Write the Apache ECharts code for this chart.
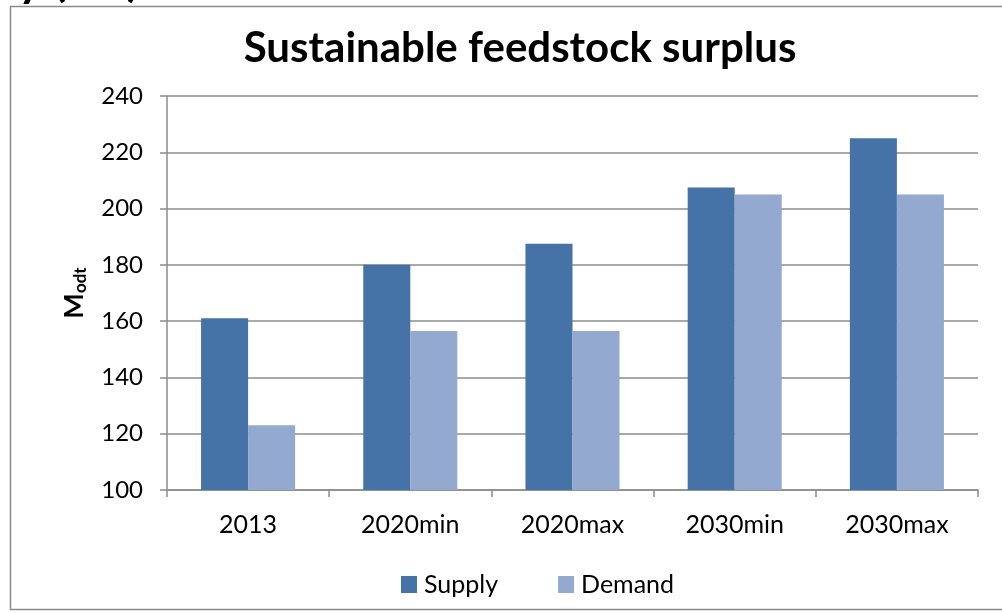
<!DOCTYPE html>
<html>
<head>
<meta charset="utf-8">
<script src="https://cdn.jsdelivr.net/npm/echarts@6/dist/echarts.min.js"></script>
<style>
  html, body { margin: 0; padding: 0; background: #fff; }
  #chart { width: 1002px; height: 613px; }
</style>
</head>
<body>
<div id="chart"></div>
<script>
// Feedstock supply vs demand by scenario (million oven-dry tonnes)
const categories = ['2013', '2020min', '2020max', '2030min', '2030max'];
const supply = [161, 180, 187.5, 207.5, 225];
const demand = [123, 156.5, 156.5, 205, 205];
const yTicks = { min: 100, max: 240, interval: 20 };

const FONT = 'Lato, "Open Sans", sans-serif';
const GRID_COLOR = '#8c8c8c';

const chart = echarts.init(document.getElementById('chart'), null, { renderer: 'canvas' });

chart.setOption({
  backgroundColor: '#fff',
  animation: false,
  graphic: [
    // outer frame of the chart area
    {
      type: 'rect',
      shape: { x: 10.5, y: 6.5, width: 1000, height: 603 },
      style: { fill: null, stroke: '#8a8a8a', lineWidth: 1.5 },
      silent: true
    },
    // bottom of a heading above the frame
    {
      type: 'text',
      x: 18,
      y: -42,
      style: { text: 'y (EU)', font: 'bold 46px ' + FONT, fill: '#000' },
      silent: true
    }
  ],
  title: {
    text: 'Sustainable feedstock surplus',
    left: 515,
    textAlign: 'center',
    top: 22,
    textStyle: { fontFamily: FONT, fontWeight: 'bold', fontSize: 42, color: '#000' }
  },
  legend: {
    data: ['Supply', 'Demand'],
    bottom: 16,
    left: 401,
    padding: 0,
    icon: 'rect',
    itemWidth: 16,
    itemHeight: 17,
    itemGap: 60,
    textStyle: { fontFamily: FONT, fontSize: 25, color: '#000', padding: [0, 0, 0, 2] }
  },
  grid: { left: 167, right: 24, top: 96, bottom: 123, containLabel: false },
  xAxis: {
    type: 'category',
    data: categories,
    boundaryGap: true,
    axisLine: { lineStyle: { color: GRID_COLOR, width: 1.5 } },
    axisTick: { show: true, length: 7, lineStyle: { color: GRID_COLOR, width: 1.5 } },
    axisLabel: { fontFamily: FONT, fontSize: 25, color: '#000', margin: 22 }
  },
  yAxis: {
    type: 'value',
    min: yTicks.min,
    max: yTicks.max,
    interval: yTicks.interval,
    name: '{m|M}{s|odt}',
    nameLocation: 'middle',
    nameGap: 78,
    nameRotate: 90,
    nameTextStyle: {
      rich: {
        m: { fontFamily: FONT, fontWeight: 'bold', fontSize: 27, color: '#000' },
        s: { fontFamily: FONT, fontWeight: 'bold', fontSize: 17, color: '#000', verticalAlign: 'bottom', padding: [12, 0, 0, 0] }
      }
    },
    axisLine: { show: true, lineStyle: { color: GRID_COLOR, width: 1.5 } },
    axisTick: { show: true, length: 7, lineStyle: { color: GRID_COLOR, width: 1.5 } },
    axisLabel: { fontFamily: FONT, fontSize: 24, color: '#000', margin: 24 },
    splitLine: { show: true, lineStyle: { color: GRID_COLOR, width: 1.5 } }
  },
  series: [
    {
      name: 'Supply',
      type: 'bar',
      data: supply,
      barGap: '0%',
      barCategoryGap: '42%',
      itemStyle: { color: '#4572a7' }
    },
    {
      name: 'Demand',
      type: 'bar',
      data: demand,
      barGap: '0%',
      barCategoryGap: '42%',
      itemStyle: { color: '#93a9cf' }
    }
  ]
});
</script>
</body>
</html>
